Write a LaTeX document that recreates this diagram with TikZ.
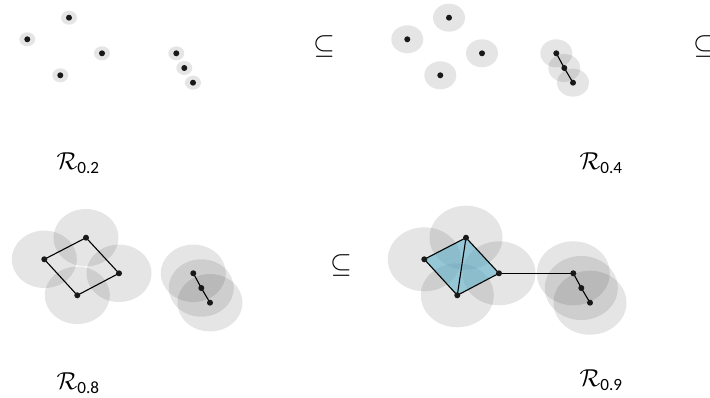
\documentclass[tikz,border=0pt]{standalone}
\usepackage{amsmath}
\usepackage{graphicx}
\usepackage{fontspec}
\newfontfamily\subfont{Carlito}
\usetikzlibrary{calc}
\definecolor{dotc}{RGB}{25,25,25}
\definecolor{simplexblue}{RGB}{95,178,205}
\tikzset{
  dotnode/.style={circle, fill=dotc, inner sep=0pt, minimum size=6pt},
  halo/.style={fill=black, fill opacity=0.1},
  edge/.style={draw=black, line width=1.1pt},
  simplex/.style={fill=simplexblue, fill opacity=0.6},
  lbl/.style={inner sep=0pt},
  subs/.style={inner sep=0pt}
}
\newcommand{\lbltext}[1]{\scalebox{2.45}{$\mathcal{R}_{\text{\subfont #1}}$}}
\newcommand{\subtext}{\scalebox{2.8}{$\subseteq$}}
\newcommand{\panelpts}[3]{%
  \coordinate (#1a) at ($(69,17.7)+(#2,#3)$);
  \coordinate (#1b) at ($(27.3,39.3)+(#2,#3)$);
  \coordinate (#1c) at ($(102,53.3)+(#2,#3)$);
  \coordinate (#1d) at ($(60.3,75.3)+(#2,#3)$);
  \coordinate (#1e) at ($(176.3,53.3)+(#2,#3)$);
  \coordinate (#1f) at ($(184.3,68)+(#2,#3)$);
  \coordinate (#1g) at ($(193,82.7)+(#2,#3)$);
}
\newcommand{\panelhalos}[3]{%
  \foreach \p in {a,b,c,d,e,f,g}{\fill[halo] (#1\p) ellipse [x radius=#2pt, y radius=#3pt];}
}
\newcommand{\paneldots}[1]{%
  \foreach \p in {a,b,c,d,e,f,g}{\node[dotnode] (#1\p dot) at (#1\p) {};}
}
\begin{document}
\begin{tikzpicture}[x=1pt,y=-1pt]
\useasboundingbox (0,0) rectangle (710,398);
% point sets
\panelpts{A}{0}{0}
\panelpts{B}{380}{0}
\panelpts{C}{17}{220}
\panelpts{D}{397}{220}
% halos
\panelhalos{A}{8}{7}
\panelhalos{B}{16}{14}
\panelhalos{C}{32.5}{28.7}
\panelhalos{D}{36.5}{32}
% simplex fill
\fill[simplex] (Db) -- (Da) -- (Dc) -- (Dd) -- cycle;
% edges
\draw[edge] (Be) -- (Bf) -- (Bg);
\draw[edge] (Cb) -- (Ca) -- (Cc) -- (Cd) -- cycle;
\draw[edge] (Ce) -- (Cf) -- (Cg);
\draw[edge] (Db) -- (Da) -- (Dc) -- (Dd) -- cycle;
\draw[edge] (Da) -- (Dd);
\draw[edge] (Dc) -- (De);
\draw[edge] (De) -- (Df) -- (Dg);
% dots
\paneldots{A}
\paneldots{B}
\paneldots{C}
\paneldots{D}
% subset symbols
\node[subs] (s1) at (324,47) {\subtext};
\node[subs] (s2) at (704,47) {\subtext};
\node[subs] (s3) at (341,266) {\subtext};
% labels
\node[lbl] (l1) at (78.5,163) {\lbltext{0.2}};
\node[lbl] (l2) at (601.5,163) {\lbltext{0.4}};
\node[lbl] (l3) at (78.5,383) {\lbltext{0.8}};
\node[lbl] (l4) at (601.5,380) {\lbltext{0.9}};
\end{tikzpicture}
\end{document}
